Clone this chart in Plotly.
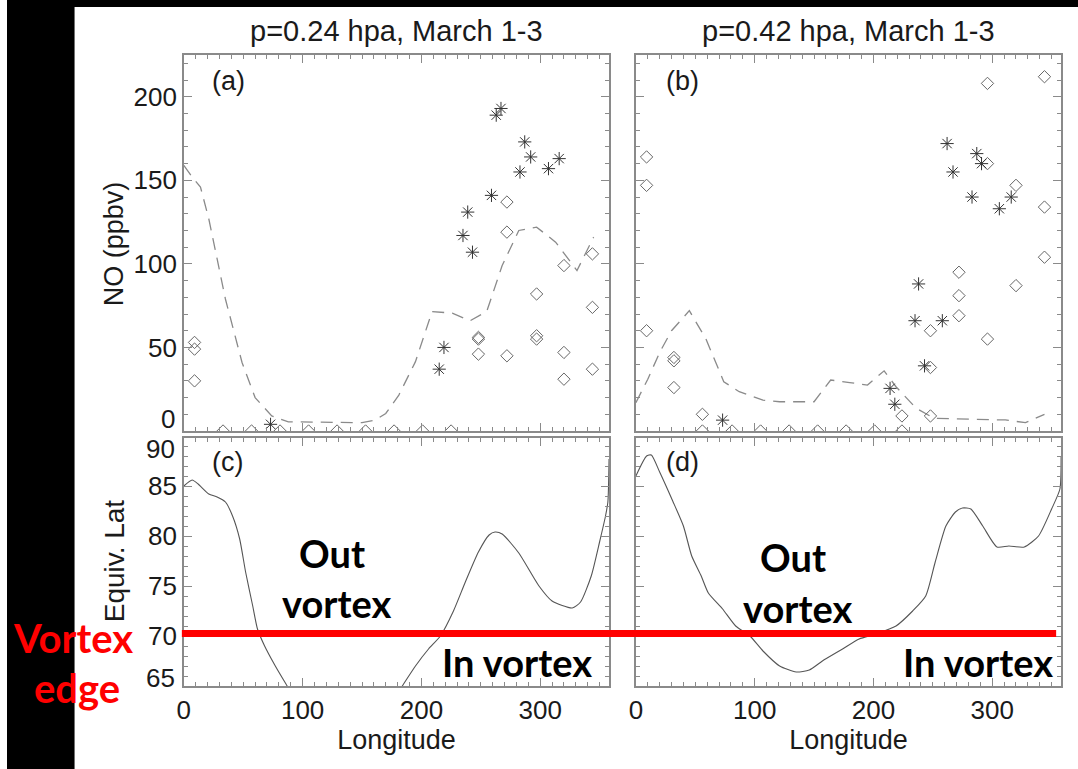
import plotly.graph_objects as go

# ---------------- data ----------------
# Panel (a): p=0.24 hPa
lon_a_diam = [9, 9, 9, 33, 57, 81, 105, 129, 153, 177, 201, 225, 248, 248, 248,
              272, 272, 272, 297, 297, 297, 320, 320, 320, 344, 344, 344]
no_a_diam = [53, 49, 30, 0, 0, 0, 0, 0, 0, 0, 0, 0, 56, 55, 46,
             137, 119, 45, 82, 57, 55, 99, 47, 31, 106, 74, 37]
lon_a_ast = [73, 215, 219, 235, 239, 243, 259, 263, 267, 283, 287, 292, 307, 316]
no_a_ast = [4, 37, 50, 117, 131, 107, 141, 189, 193, 155, 173, 164, 157, 163]
lon_a_mean = [0, 7, 14, 21, 35, 49, 60, 74, 88, 150, 161, 170, 181, 195, 209, 226,
              241, 255, 268, 282, 297, 313, 331, 345]
no_a_mean = [159, 152, 146, 127, 79, 41, 20, 9, 5.5, 5, 6.5, 10.5, 21.5, 41.5, 71.5,
             70.5, 66, 71.5, 99, 120, 122, 113, 96, 116]

# Panel (b): p=0.42 hPa
lon_b_diam = [9, 9, 9, 32, 32, 32, 56, 56, 81, 105, 129, 153, 177, 201, 224, 224,
              248, 248, 248, 272, 272, 272, 296, 296, 296, 320, 320, 344, 344, 344]
no_b_diam = [164, 147, 60, 44, 42, 26, 10, 0, 0, 0, 0, 0, 0, 0, 0, 9,
             60, 38, 9, 95, 81, 69, 208, 160, 55, 147, 87, 212, 134, 104]
lon_b_ast = [73, 214, 218, 235, 238, 243, 258, 262, 267, 283, 287, 291, 306, 316]
no_b_ast = [6.5, 25.5, 16, 66, 88, 39, 66, 172, 155, 140, 166, 160, 133, 140]
lon_b_mean = [0, 10, 20, 30, 45, 59, 74, 87, 107, 121, 150, 164, 180, 195, 209, 219,
              236, 251, 283, 311, 328, 344]
no_b_mean = [17, 31, 47, 60, 72, 55, 29.5, 23.5, 18.5, 17.5, 17.5, 30.5, 29, 27.5,
             36, 26.5, 13.6, 7.6, 7, 6.6, 5, 10]

# Panel (c): equivalent latitude, p=0.24 hPa
lon_c = [0, 7, 12, 21, 28, 35, 41, 47, 52, 58, 62, 68, 77, 86, 100, 135, 170, 185,
         195, 206, 216, 227, 237, 248, 257, 262, 268, 282, 299, 310, 327, 334, 343,
         350, 355, 357, 358]
lat_c = [85.0, 85.6, 85.2, 84.2, 83.9, 83.4, 82.0, 79.7, 76.4, 73.0, 70.7, 69.0,
         67.0, 65.2, 62.5, 60.0, 62.5, 65.2, 67.0, 68.7, 70.0, 72.5, 75.4, 78.4,
         80.1, 80.4, 80.2, 78.3, 75.0, 73.5, 72.8, 73.4, 76.0, 79.4, 82.0, 83.4, 87.7]

# Panel (d): equivalent latitude, p=0.42 hPa
lon_d = [0, 9, 13, 20, 31, 40, 47, 55, 61, 73, 84, 96, 107, 121, 135, 146, 157,
         174, 188, 202, 219, 233, 244, 252, 261, 269, 275, 282, 292, 304, 314, 327,
         339, 350, 357, 358]
lat_d = [86.0, 88.0, 88.1, 86.4, 83.5, 81.0, 78.0, 76.0, 74.3, 72.7, 71.0, 70.0,
         68.5, 67.0, 66.4, 66.6, 67.5, 68.7, 69.7, 70.2, 71.0, 72.5, 74.0, 77.4,
         81.0, 82.4, 82.8, 82.7, 81.0, 78.9, 79.0, 78.9, 80.0, 82.7, 84.7, 88.0]

titles = ["p=0.24 hpa, March 1-3", "p=0.42 hpa, March 1-3"]
panel_labels = ["(a)", "(b)", "(c)", "(d)"]
no_ticks = [50, 100, 150, 200]
lat_ticks = [70, 75, 80, 85]
lon_ticks = [0, 100, 200, 300]

# ---------------- layout helpers ----------------
W, H = 1078, 769


def px(x):
    return x / W


def py(y):
    return 1 - y / H


FONT = "Liberation Sans, Arial, sans-serif"
BOLD = "Lato, Open Sans, sans-serif"
TXT = "#1a1a1a"
FRAME = "#8a8a8a"

fig = go.Figure()

diam_style = dict(symbol="diamond-open", size=9.5, color="#666666",
                  line=dict(width=1, color="#666666"))
ast_style = dict(symbol="asterisk-open", size=11, color="#333333",
                 line=dict(width=1, color="#333333"))
dash_style = dict(color="#8a8a8a", width=1.3, dash="12px,8px")
curve_style = dict(color="#555555", width=1.1, shape="spline", smoothing=0.6)

# (a)
fig.add_trace(go.Scatter(x=lon_a_mean, y=no_a_mean, mode="lines", line=dash_style,
                         xaxis="x", yaxis="y", showlegend=False))
fig.add_trace(go.Scatter(x=lon_a_diam, y=no_a_diam, mode="markers", marker=diam_style,
                         xaxis="x", yaxis="y", showlegend=False))
fig.add_trace(go.Scatter(x=lon_a_ast, y=no_a_ast, mode="markers", marker=ast_style,
                         xaxis="x", yaxis="y", showlegend=False))
# (b)
fig.add_trace(go.Scatter(x=lon_b_mean, y=no_b_mean, mode="lines", line=dash_style,
                         xaxis="x2", yaxis="y2", showlegend=False))
fig.add_trace(go.Scatter(x=lon_b_diam, y=no_b_diam, mode="markers", marker=diam_style,
                         xaxis="x2", yaxis="y2", showlegend=False))
fig.add_trace(go.Scatter(x=lon_b_ast, y=no_b_ast, mode="markers", marker=ast_style,
                         xaxis="x2", yaxis="y2", showlegend=False))
# (c)
fig.add_trace(go.Scatter(x=lon_c, y=lat_c, mode="lines", line=curve_style,
                         xaxis="x3", yaxis="y3", showlegend=False))
# (d)
fig.add_trace(go.Scatter(x=lon_d, y=lat_d, mode="lines", line=curve_style,
                         xaxis="x4", yaxis="y4", showlegend=False))

common = dict(showline=True, linecolor=FRAME, linewidth=1.5, mirror="ticks",
              ticks="inside", ticklen=8, tickwidth=1, tickcolor=FRAME,
              showgrid=False, zeroline=False,
              tickfont=dict(family=FONT, size=26, color=TXT))
xminor = dict(ticks="inside", ticklen=4, dtick=10, tickcolor=FRAME, showgrid=False)

xdom_l = [px(178), px(606)]
xdom_r = [px(633), px(1061)]
ydom_t = [py(431), py(55)]
ydom_b = [py(686), py(438)]

fig.update_layout(
    width=W, height=H,
    margin=dict(l=0, r=0, t=0, b=0),
    paper_bgcolor="white", plot_bgcolor="white",
    font=dict(family=FONT, color=TXT),
    xaxis=dict(domain=xdom_l, anchor="y", range=[0, 358], tickvals=lon_ticks,
               showticklabels=False, minor=xminor, **common),
    yaxis=dict(domain=ydom_t, anchor="x", range=[0, 225], tickvals=no_ticks,
               minor=dict(ticks="inside", ticklen=4, dtick=10, tickcolor=FRAME),
               **common),
    xaxis2=dict(domain=xdom_r, anchor="y2", range=[0, 358], tickvals=lon_ticks,
                showticklabels=False, minor=xminor, **common),
    yaxis2=dict(domain=ydom_t, anchor="x2", range=[0, 225], tickvals=no_ticks,
                showticklabels=False,
                minor=dict(ticks="inside", ticklen=4, dtick=10, tickcolor=FRAME),
                **common),
    xaxis3=dict(domain=xdom_l, anchor="y3", range=[0, 358], tickvals=lon_ticks,
                minor=xminor,
                title=dict(text="Longitude", font=dict(family=FONT, size=27, color=TXT),
                           standoff=4),
                **common),
    yaxis3=dict(domain=ydom_b, anchor="x3", range=[65, 89.8], tickvals=lat_ticks,
                minor=dict(ticks="inside", ticklen=4, dtick=1, tickcolor=FRAME),
                **common),
    xaxis4=dict(domain=xdom_r, anchor="y4", range=[0, 358], tickvals=lon_ticks,
                minor=xminor,
                title=dict(text="Longitude", font=dict(family=FONT, size=27, color=TXT),
                           standoff=4),
                **common),
    yaxis4=dict(domain=ydom_b, anchor="x4", range=[65, 89.8], tickvals=lat_ticks,
                showticklabels=False,
                minor=dict(ticks="inside", ticklen=4, dtick=1, tickcolor=FRAME),
                **common),
)

ann = []


def text(x, y, s, size, family=FONT, color=TXT, xanchor="center", bold=False, angle=0):
    ann.append(dict(x=px(x), y=py(y), xref="paper", yref="paper", text=s,
                    showarrow=False, xanchor=xanchor, yanchor="middle", textangle=angle,
                    font=dict(family=family, size=size, color=color,
                              weight="bold" if bold else "normal")))


# titles
text(392, 31, titles[0], 29)
text(847, 31, titles[1], 29)
# y-axis titles
text(108, 244, "NO (ppbv)", 27, angle=-90)
text(108, 561, "Equiv. Lat", 28, angle=-90)
# panel labels
text(223, 81, panel_labels[0], 27)
text(680, 81, panel_labels[1], 27)
text(222, 462, panel_labels[2], 27)
text(680, 462, panel_labels[3], 27)
# edge tick labels (shifted inward as in the reference)
text(171, 419, "0", 26, xanchor="right")
text(171, 449, "90", 26, xanchor="right")
text(171, 678, "65", 26, xanchor="right")

# overlay annotations
text(327, 553, "Out", 38, family=BOLD, color="black", bold=True)
text(332, 603, "vortex", 38, family=BOLD, color="black", bold=True)
text(513, 662, "In vortex", 38, family=BOLD, color="black", bold=True)
text(791, 557, "Out", 38, family=BOLD, color="black", bold=True)
text(796, 608, "vortex", 38, family=BOLD, color="black", bold=True)
text(977, 662, "In vortex", 38, family=BOLD, color="black", bold=True)
text(66, 638, "Vortex", 40, family=BOLD, color="#ff0000", bold=True)
text(70, 688, "edge", 40, family=BOLD, color="#ff0000", bold=True)

fig.update_layout(annotations=ann)

fig.update_layout(shapes=[
    dict(type="rect", xref="paper", yref="paper", x0=0, x1=px(68), y0=0, y1=1,
         fillcolor="black", line=dict(width=0), layer="above"),
    dict(type="rect", xref="paper", yref="paper", x0=0, x1=1, y0=py(7), y1=1,
         fillcolor="black", line=dict(width=0), layer="above"),
    dict(type="line", xref="paper", yref="paper", x0=px(176), x1=px(1056),
         y0=py(633.5), y1=py(633.5), line=dict(color="#ff0000", width=7), layer="above"),
])

fig.write_html("out.html")
